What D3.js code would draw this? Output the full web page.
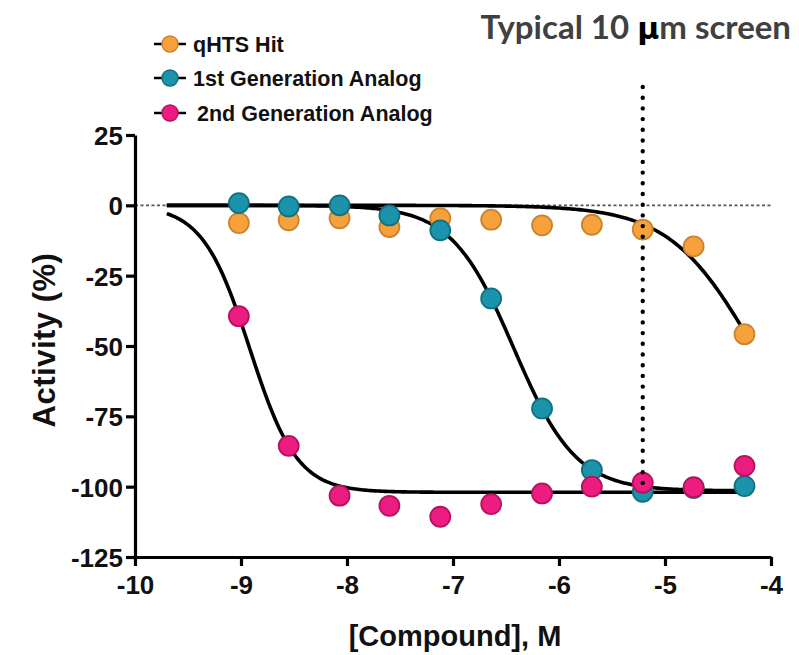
<!DOCTYPE html>
<html><head><meta charset="utf-8">
<script src="https://cdn.jsdelivr.net/npm/d3@7"></script>
<style>
html,body{margin:0;padding:0;background:#fff;}
svg{display:block;}
</style></head>
<body>
<script>
// ---- data ----
const logConc = [-9.02, -8.55, -8.07, -7.60, -7.12, -6.64, -6.16, -5.69, -5.21, -4.73, -4.25];
const qhtsHit = [-6.3, -5.3, -4.6, -7.7, -4.6, -5.1, -7.1, -6.9, -8.6, -14.6, -45.8];
const gen1Analog = [0.8, -0.4, 0, -3.6, -8.9, -33.1, -72.2, -94.1, -101.8, -100.5, -99.8];
const gen2Analog = [-39.4, -85.5, -103.2, -106.8, -110.7, -106.2, -102.4, -100.0, -98.6, -100.2, -92.6];
const seriesNames = ["qHTS Hit", "1st Generation Analog", "2nd Generation Analog"];
// fitted 4-parameter curves (top, bottom, logIC50, hill slope)
const fitTop = [0, 0, 0];
const fitBottom = [-100, -101.5, -102];
const fitLogIC50 = [-4.17, -6.427, -8.917];
const fitHill = [1.1, 1.48, 1.95];
const fitRange = [-9.7, -4.25];
const xTicks = [-10, -9, -8, -7, -6, -5, -4];
const yTicks = [25, 0, -25, -50, -75, -100, -125];
const screenLogConc = -5.21;
const titleText = "Typical 10 ";
const muText = "\u03BC";
const titleTail = "m screen";

const fillColors = ["#F7A13D", "#1B93AB", "#EC1C80"];
const strokeColors = ["#C9842F", "#13707F", "#B3135F"];

const W = 799, H = 655;
const svg = d3.select("body").append("svg").attr("width", W).attr("height", H);
const x = d3.scaleLinear().domain([-10, -4]).range([135, 771]);
const y = d3.scaleLinear().domain([-125, 25]).range([557, 135]);
const font = "'Liberation Sans', Arial, sans-serif";

// zero dotted line
svg.append("line")
  .attr("x1", x(-10)).attr("x2", x(-4)).attr("y1", y(0)).attr("y2", y(0))
  .attr("stroke", "#555").attr("stroke-width", 1.6).attr("stroke-dasharray", "3,2.5");

// curves
const hill = (i, v) => fitBottom[i] + (fitTop[i] - fitBottom[i]) / (1 + Math.pow(10, (v - fitLogIC50[i]) * fitHill[i]));
const samples = d3.range(0, 301).map(k => fitRange[0] + (fitRange[1] - fitRange[0]) * k / 300);
const line = d3.line().x(d => x(d[0])).y(d => y(d[1])).curve(d3.curveLinear);
[0, 1, 2].forEach(i => {
  svg.append("path").attr("d", line(samples.map(v => [v, hill(i, v)])))
    .attr("fill", "none").attr("stroke", "#000").attr("stroke-width", 3.6);
});

// axes
const fmt = d => String(d);
const xAxis = svg.append("g").attr("transform", `translate(0,${y(-125)})`)
  .call(d3.axisBottom(x).tickValues(xTicks).tickFormat(fmt).tickSize(9).tickSizeOuter(0));
const yAxis = svg.append("g").attr("transform", `translate(${x(-10)},0)`)
  .call(d3.axisLeft(y).tickValues(yTicks).tickFormat(fmt).tickSize(9).tickSizeOuter(0));
[xAxis, yAxis].forEach(g => {
  g.selectAll("path.domain").attr("stroke", "#000").attr("stroke-width", 3.2);
  g.selectAll(".tick line").attr("stroke", "#000").attr("stroke-width", 3.2);
  g.selectAll(".tick text").attr("font-family", font).attr("font-weight", "bold")
    .attr("font-size", 26).attr("fill", "#111");
});
xAxis.selectAll(".tick text").attr("dy", "0.9em").attr("y", 14);
yAxis.selectAll(".tick text").attr("x", -12).attr("dy", "0.36em");

// points
const allSeries = [qhtsHit, gen1Analog, gen2Analog];
allSeries.forEach((vals, i) => {
  svg.append("g").selectAll("circle").data(vals).join("circle")
    .attr("cx", (d, j) => x(logConc[j])).attr("cy", d => y(d)).attr("r", 10)
    .attr("fill", fillColors[i]).attr("stroke", strokeColors[i]).attr("stroke-width", 1.8);
});

// vertical screen line
svg.append("line")
  .attr("x1", x(screenLogConc)).attr("x2", x(screenLogConc)).attr("y1", 87).attr("y2", 493)
  .attr("stroke", "#000").attr("stroke-width", 4.4).attr("stroke-linecap", "round")
  .attr("stroke-dasharray", "0,10.7");

// axis titles
svg.append("text").attr("x", 455).attr("y", 646).attr("text-anchor", "middle")
  .attr("font-family", font).attr("font-weight", "bold").attr("font-size", 29).attr("fill", "#111")
  .text("[Compound], M");
svg.append("text").attr("transform", "translate(55,340) rotate(-90)").attr("text-anchor", "middle")
  .attr("font-family", font).attr("font-weight", "bold").attr("font-size", 31).attr("fill", "#111")
  .attr("letter-spacing", 0.5)
  .text("Activity (%)");

// title
const t = svg.append("text").attr("x", 791).attr("y", 39).attr("text-anchor", "end")
  .attr("font-family", "Lato, 'Open Sans', sans-serif").attr("font-weight", "bold")
  .attr("font-size", 33).attr("fill", "#404040");
t.append("tspan").text(titleText);
t.append("tspan").attr("fill", "#000").attr("font-family", "'DejaVu Sans', sans-serif").attr("font-size", 30).text(muText);
t.append("tspan").text(titleTail);

// legend
const legY = [44, 78, 113];
seriesNames.forEach((name, i) => {
  const g = svg.append("g").attr("transform", `translate(0,${legY[i]})`);
  g.append("line").attr("x1", 154).attr("x2", 186).attr("y1", 0).attr("y2", 0)
    .attr("stroke", "#000").attr("stroke-width", 2.5);
  g.append("circle").attr("cx", 170).attr("cy", 0).attr("r", 8)
    .attr("fill", fillColors[i]).attr("stroke", strokeColors[i]).attr("stroke-width", 1.5);
  g.append("text").attr("x", i === 2 ? 197 : 193).attr("y", 0).attr("dy", "0.36em")
    .attr("font-family", font).attr("font-weight", "bold").attr("font-size", 21.5).attr("fill", "#111")
    .text(name);
});
</script>
</body></html>
